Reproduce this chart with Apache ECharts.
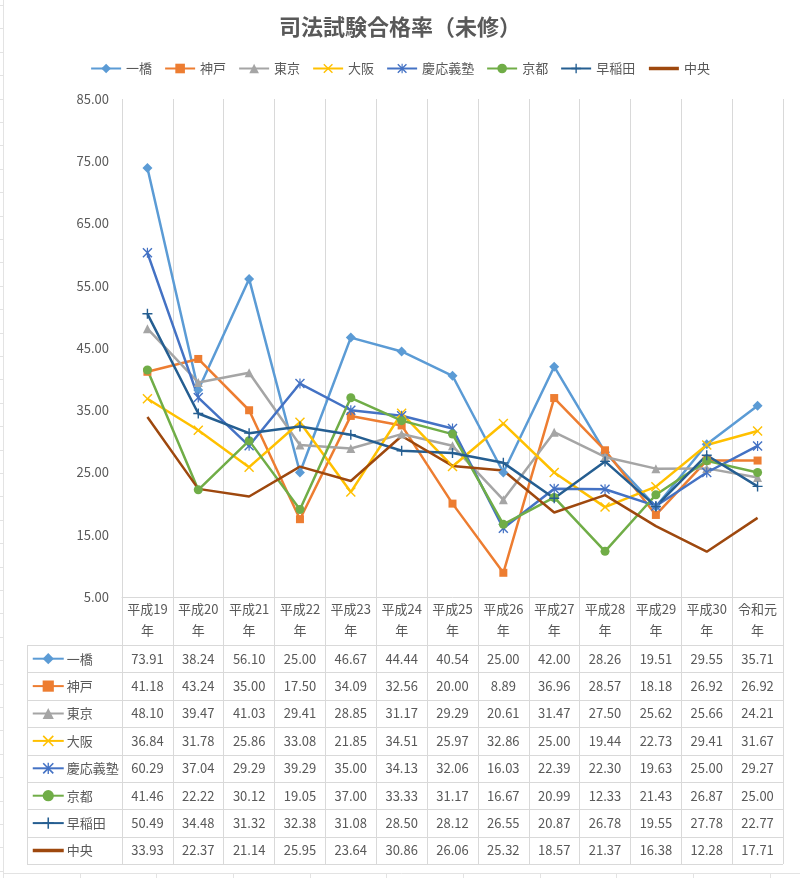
<!DOCTYPE html>
<html>
<head>
<meta charset="utf-8">
<script src="https://cdn.jsdelivr.net/npm/echarts@6/dist/echarts.min.js"></script>
<style>
html,body{margin:0;padding:0;background:#fff;}
#main{width:800px;height:878px;}
</style>
</head>
<body>
<div id="main"></div>
<script>
const categories = ['平成19年','平成20年','平成21年','平成22年','平成23年','平成24年','平成25年','平成26年','平成27年','平成28年','平成29年','平成30年','令和元年'];
const hitotsubashi = [73.91,38.24,56.10,25.00,46.67,44.44,40.54,25.00,42.00,28.26,19.51,29.55,35.71];
const kobe = [41.18,43.24,35.00,17.50,34.09,32.56,20.00,8.89,36.96,28.57,18.18,26.92,26.92];
const tokyo = [48.10,39.47,41.03,29.41,28.85,31.17,29.29,20.61,31.47,27.50,25.62,25.66,24.21];
const osaka = [36.84,31.78,25.86,33.08,21.85,34.51,25.97,32.86,25.00,19.44,22.73,29.41,31.67];
const keio = [60.29,37.04,29.29,39.29,35.00,34.13,32.06,16.03,22.39,22.30,19.63,25.00,29.27];
const kyoto = [41.46,22.22,30.12,19.05,37.00,33.33,31.17,16.67,20.99,12.33,21.43,26.87,25.00];
const waseda = [50.49,34.48,31.32,32.38,31.08,28.50,28.12,26.55,20.87,26.78,19.55,27.78,22.77];
const chuo = [33.93,22.37,21.14,25.95,23.64,30.86,26.06,25.32,18.57,21.37,16.38,12.28,17.71];
const seriesNames = ['一橋','神戸','東京','大阪','慶応義塾','京都','早稲田','中央'];
const seriesData = [hitotsubashi,kobe,tokyo,osaka,keio,kyoto,waseda,chuo];
const yTicks = {min:5, max:85, interval:10};

const colors = ['#5B9BD5','#ED7D31','#A5A5A5','#FFC000','#4472C4','#70AD47','#255E91','#9E480E'];
const X_PATH = 'path://M0,1L1,0L5,4L9,0L10,1L6,5L10,9L9,10L5,6L1,10L0,9L4,5Z';
const PLUS_PATH = 'path://M4.3,0H5.7V4.3H10V5.7H5.7V10H4.3V5.7H0V4.3H4.3Z';
const STAR_PATH = 'path://M0,1L1,0L5,4L9,0L10,1L6,5L10,9L9,10L5,6L1,10L0,9L4,5Z M4.4,0H5.6V10H4.4Z';
const symbols = [['diamond',10],['rect',8],['triangle',9],[X_PATH,10],[STAR_PATH,10],['circle',9],[PLUS_PATH,10],['none',0]];

const FONT = '"Noto Sans CJK JP", "Noto Sans", sans-serif';
const TXT = '#595959';
const GRID_C = '#d9d9d9';
const rowTop = 645, rowH = 27.4, tableLeft = 27;

const chart = echarts.init(document.getElementById('main'), null, {renderer:'canvas'});

const series = seriesNames.map((n,i)=>({
  name:n, type:'line', data:seriesData[i],
  symbol:symbols[i][0], symbolSize:symbols[i][1],
  showSymbol: symbols[i][0] !== 'none',
  lineStyle:{color:colors[i], width:2.5},
  itemStyle:{color:colors[i], borderColor:colors[i], borderWidth:0},
  emphasis:{disabled:true},
  animation:false
}));

const legendData = seriesNames.map((n,i)=> symbols[i][0]==='none'
  ? {name:n, itemStyle:{opacity:0}, lineStyle:{width:3.5}}
  : {name:n});

chart.setOption({
  animation:false,
  textStyle:{fontFamily:FONT},
  title:{text:'司法試験合格率（未修）', left:'center', top:11,
    textStyle:{fontSize:22, fontWeight:'bold', color:TXT, fontFamily:FONT}},
  legend:[{
    data:legendData, left:'center', top:62, itemWidth:30, itemHeight:12, itemGap:12,
    selectedMode:false, padding:0,
    textStyle:{fontSize:13, color:TXT, fontFamily:FONT}
  },{
    data:legendData, orient:'vertical', left:31, top:rowTop + rowH/2 - 7, itemWidth:31, itemHeight:14,
    itemGap:rowH-14, selectedMode:false, padding:0,
    textStyle:{fontSize:13, color:TXT, fontFamily:FONT, lineHeight:14, padding:[0,0,0,-2]}
  }],
  grid:{left:122, right:17, top:99, bottom:281, containLabel:false},
  xAxis:{
    type:'category', data:categories, boundaryGap:true,
    axisLine:{show:true, lineStyle:{color:GRID_C, width:1}},
    axisTick:{show:true, interval:0, length:267, lineStyle:{color:GRID_C, width:1}},
    splitLine:{show:true, interval:0, lineStyle:{color:GRID_C, width:1}},
    axisLabel:{interval:0, fontSize:13, color:TXT, lineHeight:21, margin:2, fontFamily:FONT,
      formatter:v=>v.slice(0,-1)+'\n'+v.slice(-1)}
  },
  yAxis:{
    type:'value', min:yTicks.min, max:yTicks.max, interval:yTicks.interval,
    axisLine:{show:false}, axisTick:{show:false}, splitLine:{show:false},
    axisLabel:{fontSize:13, color:TXT, margin:13, fontFamily:FONT, formatter:v=>v.toFixed(2)}
  },
  series:series
});

// table + decorations
const g = [];
const right = chart.convertToPixel({xAxisIndex:0}, categories.length-1) + (chart.convertToPixel({xAxisIndex:0},1)-chart.convertToPixel({xAxisIndex:0},0))/2;
for (let r=0;r<=seriesNames.length;r++){
  const y = Math.round(rowTop + r*rowH) + 0.5;
  g.push({type:'line', silent:true, shape:{x1:tableLeft, y1:y, x2:right, y2:y}, style:{stroke:GRID_C, lineWidth:1}});
}
g.push({type:'line', silent:true, shape:{x1:tableLeft+0.5, y1:rowTop, x2:tableLeft+0.5, y2:rowTop+rowH*seriesNames.length}, style:{stroke:GRID_C, lineWidth:1}});
seriesData.forEach((arr,r)=>{
  arr.forEach((v,c)=>{
    const x = chart.convertToPixel({xAxisIndex:0}, c);
    g.push({type:'text', silent:true, x:x, y:rowTop + r*rowH + rowH/2,
      style:{text:v.toFixed(2), fill:TXT, font:'13px '+FONT, align:'center', verticalAlign:'middle'}});
  });
});
// spreadsheet cell lines
g.push({type:'line', silent:true, shape:{x1:3.5,y1:0,x2:3.5,y2:878}, style:{stroke:'#e3e3e3', lineWidth:1}});
for (let y=5; y<878; y+=23.4){
  g.push({type:'line', silent:true, shape:{x1:0,y1:Math.round(y)+0.5,x2:3,y2:Math.round(y)+0.5}, style:{stroke:'#e3e3e3', lineWidth:1}});
}
g.push({type:'line', silent:true, shape:{x1:3,y1:873.5,x2:800,y2:873.5}, style:{stroke:'#e3e3e3', lineWidth:1}});
for (let x=79.5; x<800; x+=76.7){
  g.push({type:'line', silent:true, shape:{x1:Math.round(x)+0.5,y1:873,x2:Math.round(x)+0.5,y2:878}, style:{stroke:'#e3e3e3', lineWidth:1}});
}
chart.setOption({graphic:g});
</script>
</body>
</html>
